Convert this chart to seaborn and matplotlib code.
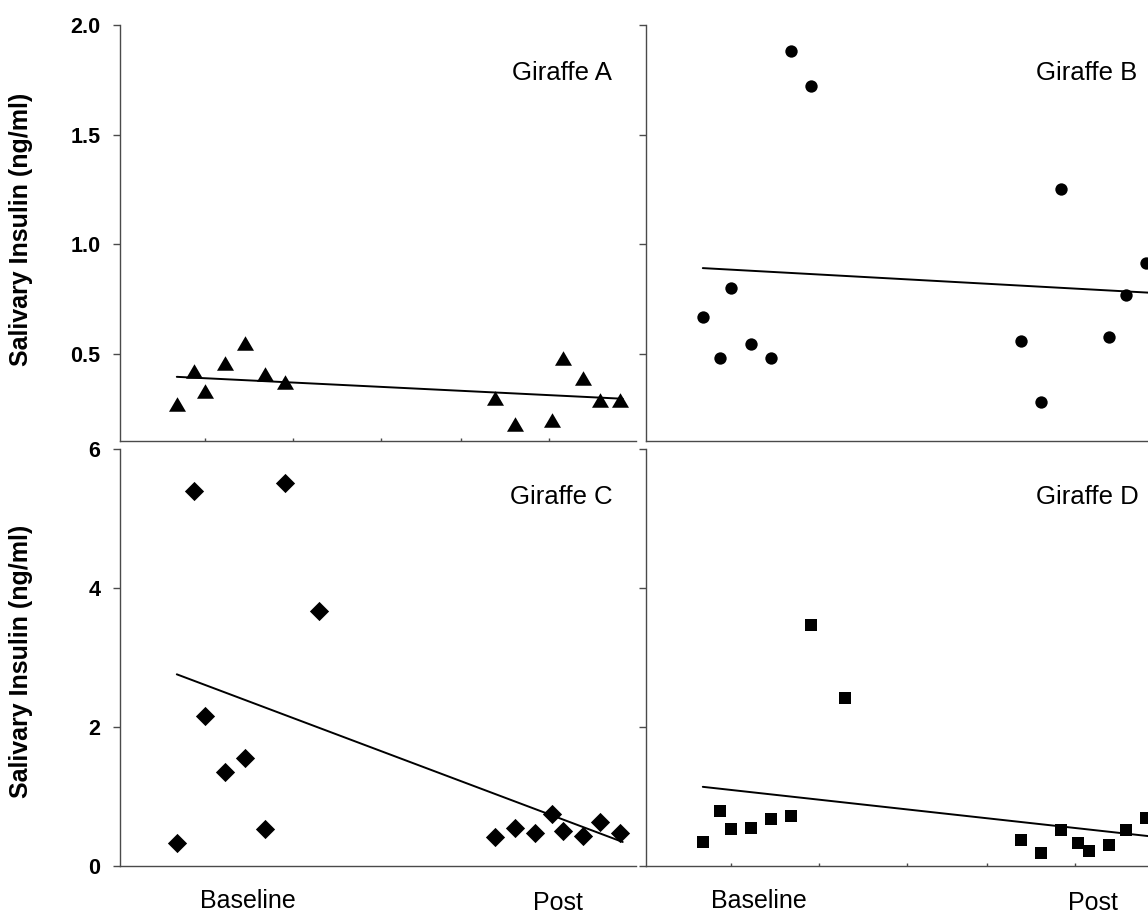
import pandas as pd
import matplotlib
matplotlib.use("Agg")
import matplotlib.pyplot as plt
import seaborn as sns

# sampling days (counted from 1 Nov) and salivary insulin (ng/ml) per giraffe
days_a = [20, 26, 30, 37, 44, 51, 58, 132, 139, 152, 156, 163, 169, 176]
insulin_a = [0.27, 0.42, 0.33, 0.46, 0.55, 0.41, 0.37,
             0.30, 0.18, 0.20, 0.48, 0.39, 0.29, 0.29]

days_b = [20, 26, 30, 37, 44, 51, 58, 132, 139, 146, 163, 169, 176]
insulin_b = [0.67, 0.48, 0.80, 0.545, 0.48, 1.88, 1.72,
             0.56, 0.28, 1.25, 0.575, 0.77, 0.915]

days_c = [20, 26, 30, 37, 44, 51, 58, 70, 132, 139, 146, 152, 156, 163, 169, 176]
insulin_c = [0.33, 5.40, 2.16, 1.36, 1.55, 0.53, 5.52, 3.67,
             0.42, 0.54, 0.48, 0.745, 0.505, 0.43, 0.635, 0.475]

days_d = [20, 26, 30, 37, 44, 51, 58, 70, 132, 139, 146, 152, 156, 163, 169, 176]
insulin_d = [0.35, 0.79, 0.53, 0.55, 0.67, 0.725, 3.47, 2.42,
             0.38, 0.18, 0.52, 0.33, 0.22, 0.30, 0.52, 0.69]

# regression lines (start / end)
trend_days = [20, 177]
trend_a = [0.395, 0.295]
trend_b = [0.891, 0.779]
trend_c = [2.76, 0.346]
trend_d = [1.14, 0.43]

month_ticks = [30, 61, 92, 120, 151]
panel_names = ["Giraffe A", "Giraffe B", "Giraffe C", "Giraffe D"]

sns.set_style("ticks")
plt.rcParams["font.family"] = ["Liberation Sans", "DejaVu Sans"]
plt.rcParams["text.color"] = "black"
plt.rcParams["axes.labelcolor"] = "black"
plt.rcParams["xtick.color"] = "black"
plt.rcParams["ytick.color"] = "black"

W, H = 1148, 913
fig = plt.figure(figsize=(W / 100, H / 100), dpi=100)

spine_col = "#4a4a4a"
tri = [(-1, -0.853), (1, -0.853), (0, 0.853)]


def px_axes(left, top, width, height):
    return fig.add_axes([left / W, 1 - (top + height) / H, width / W, height / H])


def panel(ax, days, vals, trend, marker, size, ylim, yticks, ylabels, xticks, name, name_xy):
    df = pd.DataFrame({"day": days, "insulin": vals})
    sns.scatterplot(data=df, x="day", y="insulin", marker=marker, s=size,
                    color="black", edgecolor="black", linewidth=0, ax=ax,
                    legend=False, zorder=3)
    sns.lineplot(x=trend_days, y=trend, color="black", lw=1.4, ax=ax, zorder=4)
    ax.set_xlim(0, 181.5)
    ax.set_ylim(*ylim)
    ax.set_yticks(yticks)
    ax.set_yticklabels(ylabels, fontsize=15.5, fontweight="bold", color="black")
    ax.set_xticks(xticks)
    ax.set_xticklabels([])
    ax.tick_params(axis="y", direction="out", length=5, width=1, color=spine_col, pad=9)
    ax.tick_params(axis="x", direction="in", length=2.5, width=1, color=spine_col)
    ax.set_xlabel("")
    ax.set_ylabel("")
    for s in ["top", "right"]:
        ax.spines[s].set_visible(False)
    for s in ["left", "bottom"]:
        ax.spines[s].set_color(spine_col)
        ax.spines[s].set_linewidth(1)
    fig.text(name_xy[0] / W, 1 - name_xy[1] / H, name, fontsize=18.5,
             ha="right", va="baseline", color="black")


top_ticks = [0.5, 1.0, 1.5, 2.0]
top_labels = ["0.5", "1.0", "1.5", "2.0"]
bot_ticks = [0, 2, 4, 6]
bot_labels = ["0", "2", "4", "6"]

ax_a = px_axes(120, 25, 515.5, 416.5)
panel(ax_a, days_a, insulin_a, trend_a, tri, 150, (0.1, 2.0), top_ticks, top_labels,
      month_ticks, panel_names[0], (612, 79.5))

ax_b = px_axes(646, 25, 515.5, 416.5)
panel(ax_b, days_b, insulin_b, trend_b, "o", 79, (0.1, 2.0), top_ticks, [""] * 4,
      [], panel_names[1], (1137, 79.5))

ax_c = px_axes(120, 449.3, 515.5, 416.7)
panel(ax_c, days_c, insulin_c, trend_c, "D", 96, (0, 6), bot_ticks, bot_labels,
      [], panel_names[2], (613, 503.5))

ax_d = px_axes(646, 449.3, 515.5, 416.7)
panel(ax_d, days_d, insulin_d, trend_d, "s", 70, (0, 6), bot_ticks, [""] * 4,
      month_ticks, panel_names[3], (1139, 503.5))

# y axis titles
for ax, yc in [(ax_a, 0.51), (ax_c, 0.49)]:
    ax.set_ylabel("Salivary Insulin (ng/ml)", fontsize=18, fontweight="bold", color="black")
    ax.yaxis.set_label_coords(-0.169, yc)

# group labels under the lower panels
for x, y, t in [(248, 908, "Baseline"), (558, 910, "Post"),
                (759, 908, "Baseline"), (1093, 910, "Post")]:
    fig.text(x / W, 1 - y / H, t, fontsize=18, ha="center", va="baseline", color="black")

fig.savefig("out.png", dpi=100)
